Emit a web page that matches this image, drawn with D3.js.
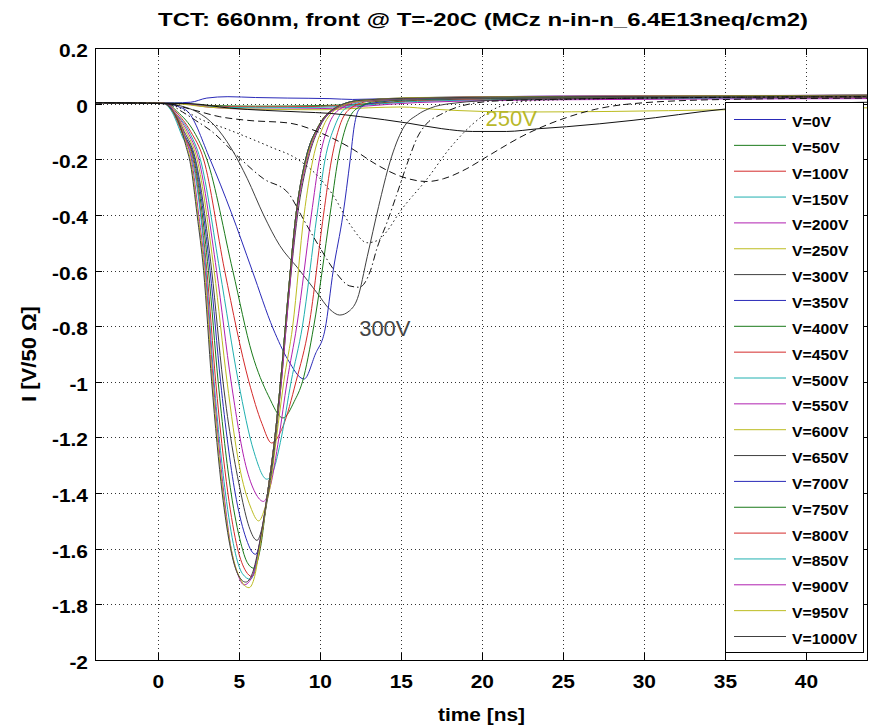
<!DOCTYPE html>
<html>
<head>
<meta charset="utf-8">
<script src="https://cdn.jsdelivr.net/npm/d3@7"></script>
<style>
  body { margin: 0; background: #fff; }
  svg { display: block; }
</style>
</head>
<body>
<svg id="chart" width="870" height="727"></svg>
<script>
// ---- data (time in ns, current in V/50 Ohm) ----
const xTicks = [0, 5, 10, 15, 20, 25, 30, 35, 40];
const yTicks = [0.2, 0, -0.2, -0.4, -0.6, -0.8, -1, -1.2, -1.4, -1.6, -1.8, -2];
const legendLabels = ["V=0V", "V=50V", "V=100V", "V=150V", "V=200V", "V=250V", "V=300V",
  "V=350V", "V=400V", "V=450V", "V=500V", "V=550V", "V=600V", "V=650V", "V=700V",
  "V=750V", "V=800V", "V=850V", "V=900V", "V=950V", "V=1000V"];

const v0 = [[-3.9,0.004],[1,0.003],[2,0.005],[3,0.02],[4.3,0.025],[6,0.022],[8,0.02],[10.6,0.018],[12,0.015],[15,0.02],[20,0.025],[30,0.028],[43.8,0.03]];
const v50 = [[-3.9,0.004],[1.5,0.001],[3,-0.006],[6,-0.009],[10,-0.007],[13,0.0],[16,0.012],[25,0.02],[43.8,0.025]];
const v100 = [[-3.9,0.004],[1.5,0.0],[3,-0.008],[6,-0.012],[10,-0.01],[13,-0.002],[16,0.01],[25,0.018],[43.8,0.022]];
const v150 = [[-3.9,0.004],[1.5,0.0],[3,-0.01],[6,-0.015],[10,-0.013],[13,-0.004],[16,0.008],[25,0.016],[43.8,0.02]];
const v200 = [[-3.9,0.004],[1.5,0.0],[3,-0.012],[6,-0.02],[10,-0.018],[13,-0.008],[16,0.004],[25,0.014],[43.8,0.018]];
const v250 = [[-3.9,0.004],[1,0.0],[3,-0.012],[6,-0.02],[10,-0.022],[13,-0.015],[15,-0.012],[17,-0.02],[20,-0.028],[23,-0.03],[28,-0.028],[35,-0.022],[43.8,-0.015]];
const v300 = [[-3.9,0.004],[0.5,0.0],[1.5,-0.01],[2.4,-0.03],[3.5,-0.08],[4.5,-0.16],[5.5,-0.27],[6.5,-0.4],[7.5,-0.51],[8.6,-0.59],[9.8,-0.68],[10.6,-0.74],[11.2,-0.76],[11.8,-0.745],[12.3,-0.7],[12.9,-0.55],[13.6,-0.37],[14.3,-0.21],[15.1,-0.09],[16,-0.04],[16.8,-0.016],[18,0.0],[22,0.015],[30,0.02],[43.8,0.025]];
const v350 = [[-3.9,0.004],[0.5,0.0],[1.2,-0.01],[1.85,-0.03],[3.2,-0.2],[4.5,-0.39],[5.8,-0.6],[7.1,-0.81],[8.0,-0.92],[9.0,-0.99],[9.7,-0.9],[10.3,-0.81],[10.8,-0.6],[11.4,-0.4],[11.85,-0.2],[12.1,-0.08],[12.4,-0.02],[13,0.0],[16,0.015],[25,0.022],[43.8,0.027]];
const v400 = [[-3.9,0.004],[0.5,0.0],[1.2,-0.03],[2.2,-0.1],[3.0,-0.2],[4.6,-0.6],[5.8,-0.9],[6.8,-1.05],[7.7,-1.13],[8.4,-1.07],[8.9,-1.0],[9.6,-0.8],[10.6,-0.4],[11.1,-0.2],[11.6,-0.08],[12.2,-0.02],[13.5,0.008],[18,0.018],[30,0.024],[43.8,0.028]];
const v450 = [[-3.9,0.004],[0.5,0.0],[1.1,-0.03],[2.0,-0.1],[2.8,-0.2],[4.1,-0.6],[5.6,-1.0],[6.4,-1.15],[7.0,-1.22],[7.7,-1.16],[8.5,-1.0],[9.3,-0.8],[10.2,-0.4],[10.7,-0.2],[11.2,-0.08],[11.8,-0.02],[13,0.008],[18,0.02],[30,0.025],[43.8,0.028]];
const v500 = [[-3.9,0.004],[0.5,0.0],[1.0,-0.03],[1.9,-0.1],[2.6,-0.2],[3.8,-0.6],[4.95,-1.0],[5.9,-1.25],[6.7,-1.35],[7.1,-1.32],[7.6,-1.2],[8.2,-1.0],[8.9,-0.8],[9.8,-0.4],[10.3,-0.2],[10.9,-0.08],[11.5,-0.02],[13,0.01],[18,0.02],[30,0.026],[43.8,0.03]];
const v550 = [[-3.9,0.004],[0.5,0.0],[1.0,-0.03],[1.8,-0.1],[2.5,-0.2],[3.6,-0.6],[4.5,-1.0],[5.4,-1.3],[6.0,-1.4],[6.5,-1.43],[6.9,-1.38],[7.45,-1.2],[7.95,-1.0],[8.55,-0.8],[9.45,-0.4],[9.95,-0.2],[10.5,-0.08],[11.2,-0.02],[12.8,0.01],[18,0.02],[30,0.026],[43.8,0.03]];
const v600 = [[-3.9,0.004],[0.4,0.001],[0.9,-0.025],[1.7,-0.1],[2.4,-0.2],[3.45,-0.6],[4.25,-1.0],[5.0,-1.3],[5.7,-1.45],[6.2,-1.5],[6.6,-1.45],[6.9,-1.38],[7.3,-1.2],[7.75,-1.0],[8.3,-0.8],[9.0,-0.4],[9.55,-0.2],[10.2,-0.08],[11.0,-0.02],[12.6,0.01],[18,0.021],[30,0.026],[43.8,0.03]];
const v650 = [[-3.9,0.004],[0.4,0.001],[0.9,-0.025],[1.6,-0.1],[2.3,-0.2],[3.3,-0.6],[4.0,-1.0],[5.1,-1.4],[5.6,-1.52],[6.1,-1.57],[6.5,-1.5],[6.8,-1.4],[7.25,-1.2],[7.6,-1.0],[8.05,-0.7],[8.6,-0.4],[9.25,-0.2],[10.0,-0.08],[10.9,-0.02],[12.5,0.01],[18,0.02],[30,0.025],[43.8,0.029]];
const v700 = [[-3.9,0.004],[0.4,0.001],[0.9,-0.025],[1.6,-0.11],[2.25,-0.2],[3.2,-0.6],[3.85,-1.0],[4.75,-1.4],[5.35,-1.55],[6.0,-1.62],[6.35,-1.56],[6.75,-1.4],[7.2,-1.2],[7.55,-1.0],[8.0,-0.7],[8.5,-0.4],[9.15,-0.2],[9.95,-0.08],[10.8,-0.02],[12.5,0.012],[18,0.022],[30,0.027],[43.8,0.03]];
const v750 = [[-3.9,0.004],[0.35,0.001],[0.85,-0.025],[1.55,-0.11],[2.2,-0.2],[3.1,-0.6],[3.7,-1.0],[4.5,-1.4],[5.1,-1.58],[5.5,-1.65],[5.9,-1.67],[6.3,-1.6],[6.75,-1.4],[7.2,-1.2],[7.55,-1.0],[8.0,-0.7],[8.5,-0.4],[9.1,-0.2],[9.9,-0.08],[10.8,-0.02],[12.5,0.012],[18,0.022],[30,0.026],[43.8,0.03]];
const v800 = [[-3.9,0.004],[0.35,0.001],[0.85,-0.025],[1.5,-0.11],[2.15,-0.2],[3.0,-0.6],[3.55,-1.0],[4.3,-1.4],[4.9,-1.6],[5.4,-1.68],[5.8,-1.7],[6.2,-1.62],[6.75,-1.4],[7.2,-1.2],[7.55,-1.0],[8.0,-0.7],[8.5,-0.4],[9.1,-0.2],[9.9,-0.08],[10.8,-0.02],[12.5,0.012],[18,0.022],[30,0.027],[43.8,0.03]];
const v850 = [[-3.9,0.004],[0.3,0.001],[0.8,-0.025],[1.5,-0.12],[2.1,-0.2],[2.95,-0.6],[3.45,-1.0],[4.15,-1.4],[4.7,-1.6],[5.2,-1.69],[5.7,-1.71],[6.1,-1.64],[6.7,-1.42],[7.2,-1.2],[7.55,-1.0],[8.0,-0.7],[8.5,-0.4],[9.1,-0.2],[9.9,-0.08],[10.8,-0.02],[12.5,0.012],[18,0.022],[30,0.027],[43.8,0.03]];
const v900 = [[-3.9,0.004],[0.3,0.002],[0.8,-0.02],[1.3,-0.06],[1.7,-0.13],[2.05,-0.2],[2.5,-0.4],[2.9,-0.6],[3.4,-1.0],[4.05,-1.4],[4.5,-1.6],[4.9,-1.69],[5.3,-1.73],[5.8,-1.7],[6.25,-1.58],[6.75,-1.4],[7.2,-1.2],[7.6,-1.0],[8.05,-0.7],[8.55,-0.4],[9.2,-0.2],[9.95,-0.08],[10.9,-0.02],[12.5,0.01],[16,0.02],[25,0.027],[43.8,0.03]];
const v950 = [[-3.9,0.004],[0.3,0.002],[0.8,-0.02],[1.3,-0.065],[1.7,-0.14],[2.05,-0.22],[2.45,-0.4],[2.85,-0.6],[3.35,-1.0],[4.0,-1.4],[4.5,-1.6],[5.0,-1.7],[5.6,-1.74],[5.95,-1.7],[6.3,-1.58],[6.8,-1.38],[7.2,-1.2],[7.55,-1.0],[8.0,-0.7],[8.5,-0.4],[9.15,-0.2],[9.9,-0.08],[10.8,-0.02],[12.5,0.01],[16,0.022],[25,0.026],[43.8,0.03]];
const v1000 = [[-3.9,0.004],[0.3,0.002],[0.8,-0.02],[1.3,-0.07],[1.7,-0.15],[2.0,-0.22],[2.4,-0.4],[2.8,-0.6],[3.3,-1.0],[3.95,-1.4],[4.4,-1.58],[4.9,-1.69],[5.4,-1.72],[5.8,-1.69],[6.25,-1.58],[6.75,-1.4],[7.2,-1.2],[7.55,-1.0],[8.0,-0.7],[8.5,-0.4],[9.1,-0.2],[9.9,-0.08],[10.8,-0.02],[12.5,0.012],[16,0.02],[25,0.025],[43.8,0.028]];

// extra black traces between 250 V and 300 V (not in the legend)
const extraSolid = [[-3.9,0.003],[1.9,0.0],[4.4,-0.016],[8.8,-0.03],[10.6,-0.035],[12.5,-0.047],[15.4,-0.07],[17.5,-0.09],[19.4,-0.1],[21.5,-0.1],[23.5,-0.09],[25.2,-0.083],[29.3,-0.06],[34.9,-0.02],[38,-0.005],[43.8,0.005]];
const extraDashed = [[-3.9,0.003],[0.5,0.0],[2,-0.02],[3.8,-0.047],[5.5,-0.06],[8.1,-0.07],[9.8,-0.1],[11.9,-0.16],[13.5,-0.22],[14.9,-0.26],[16.6,-0.28],[17.6,-0.27],[19,-0.235],[20.3,-0.19],[22.7,-0.11],[25.2,-0.05],[27,-0.02],[29.3,0.0],[35,0.015],[43.8,0.02]];
const extraDotted = [[-3.9,0.003],[0.5,0.0],[1.5,-0.02],[2.4,-0.05],[4.4,-0.095],[6.9,-0.155],[8.6,-0.2],[10,-0.27],[10.8,-0.33],[11.9,-0.44],[12.9,-0.5],[13.6,-0.49],[14.1,-0.46],[14.9,-0.39],[16.6,-0.27],[18,-0.16],[19.9,-0.05],[21.1,-0.01],[23,0.01],[30,0.02],[43.8,0.025]];
const extraDashDot = [[-3.9,0.003],[0.5,0.0],[1.5,-0.03],[2.3,-0.06],[3.2,-0.095],[5.1,-0.2],[6.5,-0.27],[8,-0.32],[9,-0.42],[10,-0.52],[11,-0.61],[11.8,-0.655],[12.4,-0.66],[13.1,-0.6],[13.5,-0.52],[14.1,-0.43],[14.7,-0.33],[15.4,-0.21],[16,-0.12],[16.6,-0.07],[17.4,-0.04],[18.6,-0.01],[21,0.01],[30,0.02],[43.8,0.025]];

const seriesData = [v0, v50, v100, v150, v200, v250, v300, v350, v400, v450, v500,
  v550, v600, v650, v700, v750, v800, v850, v900, v950, v1000];
// matlab default colour order (b g r c m y k)
const colorOrder = ["#2a2ab8", "#1a7a1a", "#d42a2a", "#20b0b0", "#b020b0", "#bcbc20", "#404040"];

// ---- layout ----
const plot = { left: 95, right: 868, top: 48, bottom: 660 };
const font = "'Liberation Sans', Arial, Helvetica, sans-serif";

const svg = d3.select("#chart");

const x = d3.scaleLinear().domain([-3.9, 43.8]).range([plot.left, plot.right]);
const y = d3.scaleLinear().domain([-2, 0.2]).range([plot.bottom, plot.top]);

// bold label at (px, py); the source lettering is wider than Liberation, so stretch it
function label(g, px, py, txt, size, anchor, rot, sx = 1.1) {
  return g.append("text")
    .attr("transform", `translate(${px},${py})` + (rot ? ` rotate(${rot})` : "") + ` scale(${sx},1)`)
    .attr("text-anchor", anchor)
    .attr("font-family", font).attr("font-size", size).attr("font-weight", "bold")
    .text(txt);
}

svg.append("defs").append("clipPath").attr("id", "clip")
  .append("rect")
  .attr("x", plot.left).attr("y", plot.top)
  .attr("width", plot.right - plot.left).attr("height", plot.bottom - plot.top);

// grid (dotted)
const grid = svg.append("g");
grid.selectAll("line.vx")
  .data(xTicks)
  .enter().append("line")
  .attr("x1", d => Math.round(x(d)) + 0.5).attr("x2", d => Math.round(x(d)) + 0.5)
  .attr("y1", plot.top).attr("y2", plot.bottom)
  .attr("stroke", "#333").attr("stroke-width", 1).attr("stroke-dasharray", "1,3");
grid.selectAll("line.hy")
  .data(yTicks.filter(d => d > -2 && d < 0.2))
  .enter().append("line")
  .attr("y1", d => Math.round(y(d)) + 0.5).attr("y2", d => Math.round(y(d)) + 0.5)
  .attr("x1", plot.left).attr("x2", plot.right)
  .attr("stroke", "#333").attr("stroke-width", 1).attr("stroke-dasharray", "1,3");

// traces
const line = d3.line()
  .x(d => x(d[0]))
  .y(d => y(d[1]))
  .curve(d3.curveMonotoneX);

const traces = svg.append("g").attr("clip-path", "url(#clip)");
seriesData.forEach((pts, i) => {
  traces.append("path")
    .datum(pts)
    .attr("d", line)
    .attr("fill", "none")
    .attr("stroke", colorOrder[i % colorOrder.length])
    .attr("stroke-width", 1);
});

const extras = [
  { pts: extraSolid, dash: null },
  { pts: extraDashed, dash: "7,4" },
  { pts: extraDotted, dash: "1.5,3" },
  { pts: extraDashDot, dash: "7,3,1.5,3" }
];
extras.forEach(e => {
  traces.append("path")
    .datum(e.pts)
    .attr("d", line)
    .attr("fill", "none")
    .attr("stroke", "#111")
    .attr("stroke-width", 1)
    .attr("stroke-dasharray", e.dash);
});

// annotations
svg.append("text")
  .attr("x", x(20.2)).attr("y", y(-0.082))
  .attr("font-family", font).attr("font-size", 22)
  .attr("fill", "#b8b82a")
  .text("250V");
svg.append("text")
  .attr("x", x(12.4)).attr("y", y(-0.837))
  .attr("font-family", font).attr("font-size", 22)
  .attr("fill", "#444")
  .text("300V");

// axes box + ticks
const tickLen = 7;
const axes = svg.append("g").attr("stroke", "#000").attr("stroke-width", 1);
axes.append("rect")
  .attr("x", plot.left + 0.5).attr("y", plot.top + 0.5)
  .attr("width", plot.right - plot.left - 1).attr("height", plot.bottom - plot.top)
  .attr("fill", "none");
xTicks.forEach(t => {
  const px = Math.round(x(t)) + 0.5;
  axes.append("line").attr("x1", px).attr("x2", px).attr("y1", plot.bottom).attr("y2", plot.bottom - tickLen);
  axes.append("line").attr("x1", px).attr("x2", px).attr("y1", plot.top).attr("y2", plot.top + tickLen);
});
yTicks.forEach(t => {
  const py = Math.round(y(t)) + 0.5;
  axes.append("line").attr("y1", py).attr("y2", py).attr("x1", plot.left).attr("x2", plot.left + tickLen);
  axes.append("line").attr("y1", py).attr("y2", py).attr("x1", plot.right).attr("x2", plot.right - tickLen);
});

// tick labels
const tickG = svg.append("g");
xTicks.forEach(t => label(tickG, x(t), 688, t, 19, "middle"));
yTicks.forEach(t => label(tickG, plot.left - 7, y(t) + 9, t, 19, "end"));

// axis titles
label(svg, (plot.left + plot.right) / 2, 721, "time [ns]", 19, "middle");
label(svg, 36, (plot.top + plot.bottom) / 2, "I [V/50 \u03A9]", 20, "middle", -90);
label(svg, 483, 26, "TCT: 660nm, front @ T=-20C (MCz n-in-n_6.4E13neq/cm2)", 18, "middle", 0, 1.33);

// legend
const leg = { x: 725, y: 102, w: 138, h: 550, first: 119.5, step: 25.85 };
const legend = svg.append("g");
legend.append("rect")
  .attr("x", leg.x + 0.5).attr("y", leg.y + 0.5)
  .attr("width", leg.w).attr("height", leg.h)
  .attr("fill", "#fff").attr("stroke", "#000");
const items = legend.selectAll("g.item")
  .data(legendLabels)
  .enter().append("g")
  .attr("transform", (d, i) => `translate(0,${leg.first + i * leg.step})`);
items.append("line")
  .attr("x1", 734).attr("x2", 786)
  .attr("stroke", (d, i) => colorOrder[i % colorOrder.length])
  .attr("stroke-width", 1);
items.append("text")
  .attr("transform", "translate(792,7.5) scale(1.05,1)")
  .attr("font-family", font).attr("font-size", 15).attr("font-weight", "bold")
  .text(d => d);
</script>
</body>
</html>
